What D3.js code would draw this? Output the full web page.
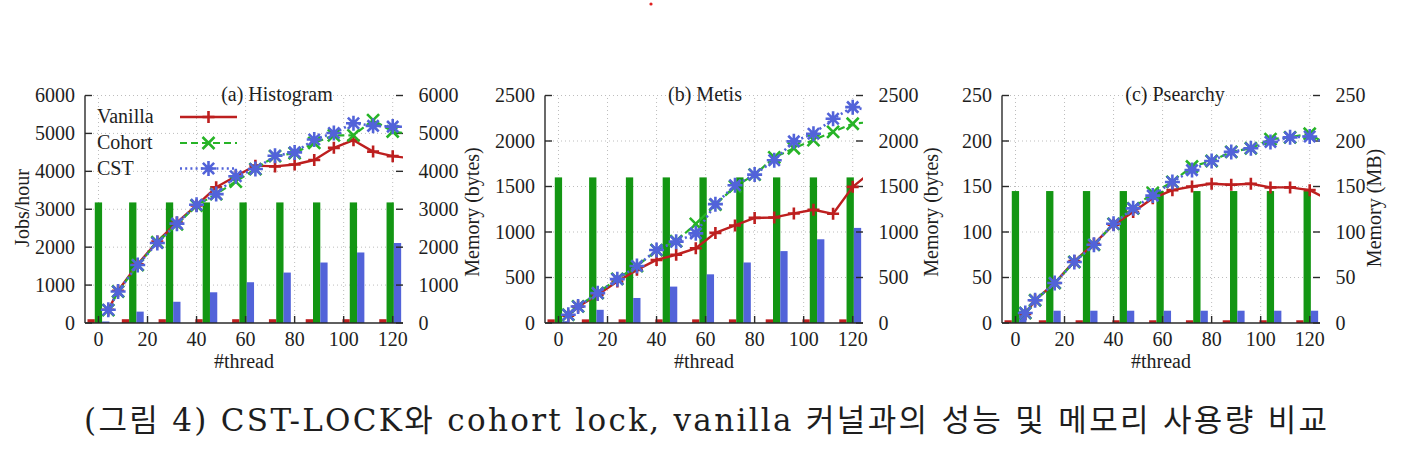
<!DOCTYPE html>
<html><head><meta charset="utf-8">
<script src="https://cdnjs.cloudflare.com/ajax/libs/d3/7.8.5/d3.min.js"></script>
<style>
body{margin:0;background:#fff}
svg{display:block}
text{font-family:"Liberation Serif","Times New Roman",serif;fill:#1e1e1e}
</style>
</head><body>
<svg id="chart" width="1402" height="455"></svg>
<script>
// ---------------- data ----------------
const threads    = [4, 8, 16, 24, 32, 40, 48, 56, 64, 72, 80, 88, 96, 104, 112, 120, 128];
const barThreads = [1, 15, 30, 45, 60, 75, 90, 105, 120];
const xTicks     = [0, 20, 40, 60, 80, 100, 120];
const seriesNames = ["Vanilla", "Cohort", "CST"];
const panelTitles = ["(a) Histogram", "(b) Metis", "(c) Psearchy"];
const axisTitles  = ["Jobs/hour", "Memory (bytes)", "Memory (bytes)", "Memory (MB)"];
const caption = "(그림 4) CST-LOCK와 cohort lock, vanilla 커널과의 성능 및 메모리 사용량 비교";

// (a) Histogram
const yTicksA = [0, 1000, 2000, 3000, 4000, 5000, 6000];
const vanillaA = [350, 850, 1550, 2150, 2650, 3100, 3580, 3870, 4150, 4130, 4180, 4300, 4620, 4820, 4520, 4400, 4340];
const cohortA  = [340, 830, 1530, 2130, 2600, 3100, 3400, 3730, 4060, 4400, 4480, 4750, 4950, 4950, 5350, 5050, 4980];
const cstA     = [350, 830, 1530, 2110, 2620, 3120, 3400, 3870, 4060, 4410, 4500, 4840, 5010, 5270, 5200, 5180, 5170];
const barVanillaA = [100, 100, 100, 100, 100, 100, 100, 100, 100];
const barCohortA  = [3180, 3180, 3180, 3180, 3180, 3180, 3180, 3180, 3180];
const barCstA     = [40, 300, 560, 810, 1075, 1330, 1595, 1860, 2110];

// (b) Metis
const yTicksB = [0, 500, 1000, 1500, 2000, 2500];
const vanillaB = [80, 180, 310, 456, 584, 693, 750, 821, 990, 1072, 1155, 1160, 1204, 1245, 1200, 1496, 1670];
const cohortB  = [91, 182, 330, 485, 625, 800, 900, 1090, 1300, 1500, 1630, 1820, 1920, 2010, 2100, 2190, 2210];
const cstB     = [91, 182, 328, 482, 627, 803, 894, 985, 1306, 1514, 1631, 1788, 1996, 2080, 2245, 2372, 2330];
const barVanillaB = [40, 40, 40, 40, 40, 40, 40, 40, 40];
const barCohortB  = [1600, 1600, 1600, 1600, 1600, 1600, 1600, 1600, 1600];
const barCstB     = [20, 145, 275, 400, 535, 665, 790, 920, 1045];

// (c) Psearchy
const yTicksC = [0, 50, 100, 150, 200, 250];
const vanillaC = [10, 25, 44, 68, 87, 108, 122, 137, 146, 150, 153, 152, 153, 149, 149, 146, 135];
const cohortC  = [11, 25, 44, 67, 86, 109, 126, 143, 155, 172, 178, 188, 192, 202, 204, 208, 194];
const cstC     = [11, 25, 44, 67, 86, 109, 126, 140, 155, 168, 178, 188, 192, 199, 204, 205, 196];
const barVanillaC = [3, 3, 3, 3, 3, 3, 3, 3, 3];
const barCohortC  = [145, 145, 145, 145, 145, 145, 145, 145, 145];
const barCstC     = [13.5, 13.5, 13.5, 13.5, 13.5, 13.5, 13.5, 13.5, 13.5];

// ---------------- styling / layout ----------------
const colRed = "#bd1f1f", colGreenLine = "#27b427", colGreenBar = "#139613", colBlue = "#5263d9";
const panels = [
  {left: 85,   yTicks: yTicksA, lines: [vanillaA, cohortA, cstA], bars: [barVanillaA, barCohortA, barCstA], titleX: 277, legend: true},
  {left: 545,  yTicks: yTicksB, lines: [vanillaB, cohortB, cstB], bars: [barVanillaB, barCohortB, barCstB], titleX: 705, legend: false},
  {left: 1002, yTicks: yTicksC, lines: [vanillaC, cohortC, cstC], bars: [barVanillaC, barCohortC, barCstC], titleX: 1175, legend: false}
];
const plotW = 318, plotTop = 95.5, plotBottom = 323;
const barW = 7.3, tickLen = 7, fs = 20;

const svg = d3.select("#chart");
const defs = svg.append("defs");

const markerPath = {
  plus:  s => `M${-s},0H${s}M0,${-s}V${s}`,
  cross: s => `M${-s},${-s}L${s},${s}M${-s},${s}L${s},${-s}`,
  star:  s => `M${-s},0H${s}M0,${-s}V${s}` + `M${-s*0.75},${-s*0.75}L${s*0.75},${s*0.75}M${-s*0.75},${s*0.75}L${s*0.75},${-s*0.75}`
};
const seriesStyle = [
  {color: colRed,       dash: null,  width: 2.4, marker: markerPath.plus(6)},
  {color: colGreenLine, dash: "7,4", width: 2.2, marker: markerPath.cross(6)},
  {color: colBlue,      dash: "2,3.2", width: 2.6, marker: markerPath.star(7.5)}
];
const barColors = [colRed, colGreenBar, colBlue];

panels.forEach((p, pi) => {
  const right = p.left + plotW;
  const x = d3.scaleLinear().domain([-5.5, 124.2]).range([p.left, right]);
  const yMax = p.yTicks[p.yTicks.length - 1];
  const y = d3.scaleLinear().domain([0, yMax]).range([plotBottom, plotTop]);
  const y2 = d3.scaleLinear().domain([0, yMax]).range([plotBottom, plotTop]);
  const g = svg.append("g");

  // grid
  g.append("g").selectAll("line.h").data(p.yTicks.slice(1)).join("line")
    .attr("x1", p.left).attr("x2", right).attr("y1", d => y(d)).attr("y2", d => y(d))
    .attr("stroke", "#bdbdbd").attr("stroke-width", 1).attr("stroke-dasharray", "1,3");
  g.append("g").selectAll("line.v").data(xTicks).join("line")
    .attr("x1", d => x(d)).attr("x2", d => x(d)).attr("y1", plotBottom).attr("y2", plotTop)
    .attr("stroke", "#bdbdbd").attr("stroke-width", 1).attr("stroke-dasharray", "1,3");

  // bars (memory, right axis)
  p.bars.forEach((vals, si) => {
    g.append("g").selectAll("rect").data(vals).join("rect")
      .attr("x", (d, i) => x(barThreads[i]) - 2.5 + (si - 1.5) * barW)
      .attr("width", barW)
      .attr("y", d => y2(d))
      .attr("height", d => plotBottom - y2(d))
      .attr("fill", barColors[si]);
  });

  // axes
  const ax = g.append("g").attr("stroke", "#2a2a2a").attr("stroke-width", 1.4).attr("fill", "none");
  ax.append("line").attr("x1", p.left).attr("x2", p.left).attr("y1", plotTop).attr("y2", plotBottom);
  ax.append("line").attr("x1", p.left).attr("x2", right).attr("y1", plotBottom).attr("y2", plotBottom);
  p.yTicks.forEach(t => {
    ax.append("line").attr("x1", p.left).attr("x2", p.left + tickLen).attr("y1", y(t)).attr("y2", y(t));
    ax.append("line").attr("x1", right - tickLen).attr("x2", right).attr("y1", y2(t)).attr("y2", y2(t));
  });
  xTicks.forEach(t => {
    ax.append("line").attr("x1", x(t)).attr("x2", x(t)).attr("y1", plotBottom).attr("y2", plotBottom - tickLen);
  });

  // tick labels
  g.append("g").selectAll("text").data(p.yTicks).join("text")
    .attr("x", p.left - 10).attr("y", d => y(d)).attr("dy", "0.34em")
    .attr("text-anchor", "end").attr("font-size", fs).text(d => d);
  g.append("g").selectAll("text").data(p.yTicks).join("text")
    .attr("x", right + 15.5).attr("y", d => y2(d)).attr("dy", "0.34em")
    .attr("text-anchor", "start").attr("font-size", fs).text(d => d);
  g.append("g").selectAll("text").data(xTicks).join("text")
    .attr("x", d => x(d)).attr("y", 345.5)
    .attr("text-anchor", "middle").attr("font-size", fs).text(d => d);
  g.append("text").attr("x", (p.left + right) / 2).attr("y", 367.5)
    .attr("text-anchor", "middle").attr("font-size", fs).text("#thread");
  g.append("text").attr("x", p.titleX).attr("y", 101)
    .attr("text-anchor", "middle").attr("font-size", fs).text(panelTitles[pi]);

  // lines (clipped to plot area)
  const clipId = "clip" + pi;
  defs.append("clipPath").attr("id", clipId).append("rect")
    .attr("x", p.left).attr("y", plotTop - 20).attr("width", plotW).attr("height", plotBottom - plotTop + 40);
  const lg = g.append("g").attr("clip-path", `url(#${clipId})`);
  p.lines.forEach((vals, si) => {
    const st = seriesStyle[si];
    const pts = vals.map((v, i) => [x(threads[i]), y(v)]);
    lg.append("path").attr("d", d3.line()(pts)).attr("fill", "none")
      .attr("stroke", st.color).attr("stroke-width", st.width)
      .attr("stroke-dasharray", st.dash).attr("stroke-linejoin", "round");
    lg.append("g").selectAll("path").data(pts).join("path")
      .attr("transform", d => `translate(${d[0]},${d[1]})`)
      .attr("d", st.marker).attr("fill", "none")
      .attr("stroke", st.color).attr("stroke-width", 2.6);
  });

  // legend
  if (p.legend) {
    const baselines = [123, 149, 174.5];
    seriesNames.forEach((name, si) => {
      const st = seriesStyle[si];
      const ly = baselines[si] - 6;
      g.append("text").attr("x", 97).attr("y", baselines[si]).attr("font-size", fs).text(name);
      g.append("line").attr("x1", 180).attr("x2", 237).attr("y1", ly).attr("y2", ly)
        .attr("stroke", st.color).attr("stroke-width", st.width).attr("stroke-dasharray", st.dash);
      g.append("path").attr("transform", `translate(208.5,${ly})`).attr("d", st.marker)
        .attr("fill", "none").attr("stroke", st.color).attr("stroke-width", 2.6);
    });
  }
});

// axis titles (rotated)
const axisTitlePos = [[29, 208], [478.5, 212], [937.5, 212], [1380.5, 208]];
axisTitles.forEach((t, i) => {
  svg.append("text")
    .attr("transform", `translate(${axisTitlePos[i][0]},${axisTitlePos[i][1]}) rotate(-90)`)
    .attr("text-anchor", "middle").attr("font-size", fs).text(t);
});

// caption
svg.append("text").attr("x", 84).attr("y", 431)
  .attr("font-size", 31)
  .attr("textLength", 1243).attr("lengthAdjust", "spacing")
  .style("font-family", "'DejaVu Serif','Noto Sans CJK KR',serif")
  .text(caption);

// small red dot at top
svg.append("circle").attr("cx", 651).attr("cy", 4).attr("r", 1.6).attr("fill", "#e02020");
</script>
</body></html>
